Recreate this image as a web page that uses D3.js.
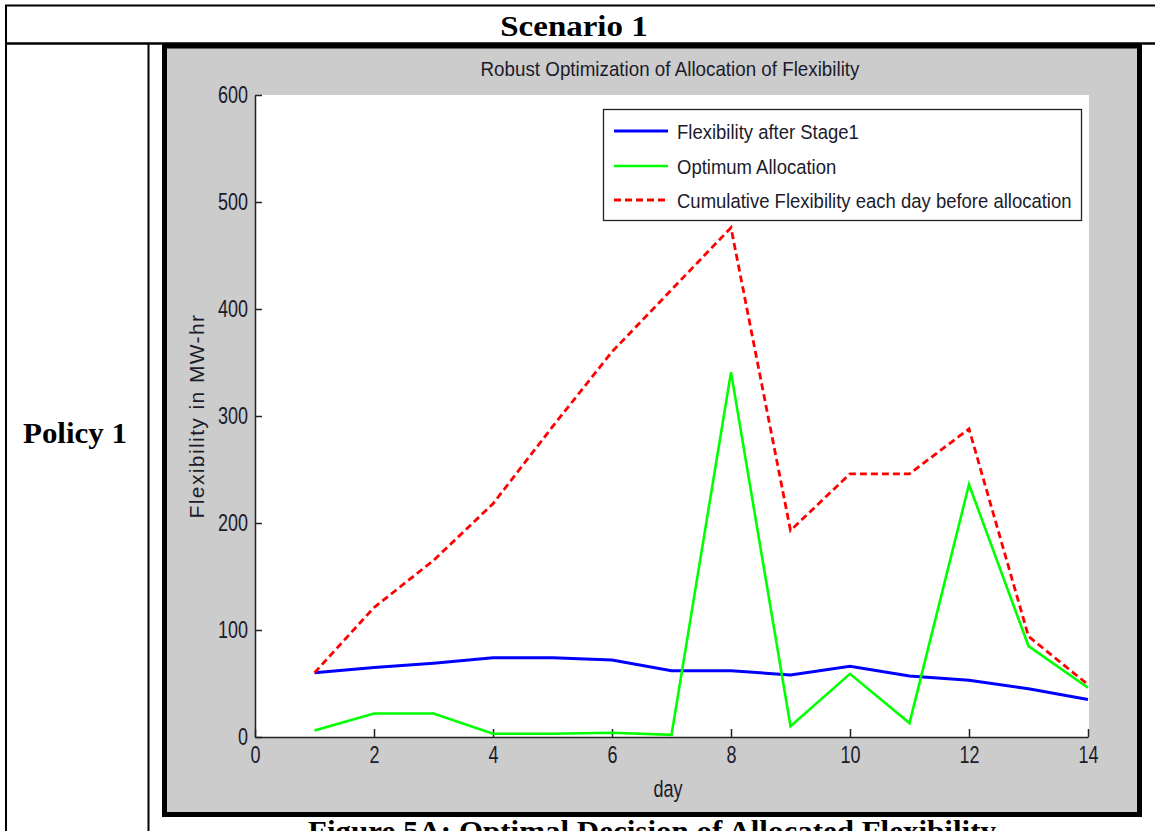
<!DOCTYPE html>
<html>
<head>
<meta charset="utf-8">
<script src="https://cdn.jsdelivr.net/npm/d3@7"></script>
<style>
  body { margin: 0; background: #fff; }
  svg { display: block; }
</style>
</head>
<body>
<div id="chart"></div>
<script>
// data
const days = [1, 2, 3, 4, 5, 6, 7, 8, 9, 10, 11, 12, 13, 14];
const afterStage1 = [60, 65, 69, 74, 74, 72, 62, 62, 58, 66, 57, 53, 45, 35];
const optimumAllocation = [6, 22, 22, 3, 3, 4, 2, 341, 10, 59, 13, 236, 85, 46];
const cumulativeBefore = [60, 121, 165, 218, 290, 360, 418, 476, 193, 246, 246, 288, 94, 49];
const seriesNames = ["Flexibility after Stage1", "Optimum Allocation", "Cumulative Flexibility each day before allocation"];
const xTicks = [0, 2, 4, 6, 8, 10, 12, 14];
const yTicks = [0, 100, 200, 300, 400, 500, 600];

const W = 1155, H = 831;
const plot = { left: 255, right: 1089, top: 95, bottom: 737 };
const sy = 1.35;   // the screenshot is stretched vertically, text too
const sans = "'Liberation Sans', Arial, sans-serif";
const serif = "'Liberation Serif', 'Times New Roman', serif";

const svg = d3.select("#chart").append("svg")
  .attr("width", W).attr("height", H);

svg.append("rect").attr("width", W).attr("height", H).attr("fill", "#fff");

// put a text at (x, y) stretched vertically
function tallText(g, x, y, s, k) {
  return g.append("text")
    .attr("transform", `translate(${x},${y}) scale(1,${k})`)
    .text(s);
}

// table around the figure
const table = svg.append("g").attr("stroke", "#000").attr("fill", "none");
table.append("line").attr("x1", 5).attr("x2", W).attr("y1", 5.5).attr("y2", 5.5).attr("stroke-width", 2);
table.append("line").attr("x1", 6).attr("x2", 6).attr("y1", 5).attr("y2", H).attr("stroke-width", 2);
table.append("line").attr("x1", 5).attr("x2", W).attr("y1", 43.5).attr("y2", 43.5).attr("stroke-width", 2.5);
table.append("line").attr("x1", 148.5).attr("x2", 148.5).attr("y1", 43).attr("y2", H).attr("stroke-width", 2);

tallText(svg, 574, 36, "Scenario 1", 0.92)
  .attr("text-anchor", "middle")
  .attr("font-family", serif).attr("font-weight", "bold").attr("font-size", 33);

tallText(svg, 75, 443, "Policy 1", 0.97)
  .attr("text-anchor", "middle")
  .attr("font-family", serif).attr("font-weight", "bold").attr("font-size", 31);

// figure frame
svg.append("rect")
  .attr("x", 164.5).attr("y", 46).attr("width", 975).attr("height", 768.5)
  .attr("fill", "#cccccc").attr("stroke", "#000").attr("stroke-width", 5);

tallText(svg, 652, 841, "Figure 5A: Optimal Decision of Allocated Flexibility", 0.95)
  .attr("text-anchor", "middle")
  .attr("font-family", serif).attr("font-weight", "bold").attr("font-size", 31);

// axes
svg.append("rect")
  .attr("x", plot.left).attr("y", plot.top)
  .attr("width", plot.right - plot.left).attr("height", plot.bottom - plot.top)
  .attr("fill", "#fff");

const x = d3.scaleLinear().domain([0, 14]).range([plot.left, plot.right - 1]);
const y = d3.scaleLinear().domain([0, 600]).range([plot.bottom, plot.top]);

const gx = svg.append("g")
  .attr("transform", `translate(0,${plot.bottom})`)
  .call(d3.axisBottom(x).tickValues(xTicks).tickSizeInner(-8).tickSizeOuter(0).tickPadding(0));

const gy = svg.append("g")
  .attr("transform", `translate(${plot.left},0)`)
  .call(d3.axisLeft(y).tickValues(yTicks).tickSizeInner(-7).tickSizeOuter(0).tickPadding(7));

[gx, gy].forEach(g => {
  g.select(".domain").attr("stroke", "#222").attr("stroke-width", 1.5);
  g.selectAll(".tick line").attr("stroke", "#222").attr("stroke-width", 1.5);
  g.selectAll(".tick text")
    .attr("fill", "#1b1b2b")
    .attr("font-family", sans)
    .attr("font-size", 18);
});
gx.selectAll(".tick text").attr("y", 9 / sy).attr("transform", `scale(1,${sy})`);
gy.selectAll(".tick text").attr("transform", `scale(1,${sy})`);

tallText(svg, 668, 797, "day", sy)
  .attr("text-anchor", "middle").attr("fill", "#1b1b2b")
  .attr("font-family", sans).attr("font-size", 18);

svg.append("text")
  .attr("transform", "translate(204,416) rotate(-90)")
  .attr("text-anchor", "middle").attr("fill", "#1b1b2b")
  .attr("font-family", sans).attr("font-size", 21)
  .attr("letter-spacing", 1.4)
  .text("Flexibility in MW-hr");

tallText(svg, 670, 76, "Robust Optimization of Allocation of Flexibility", 1.12)
  .attr("text-anchor", "middle").attr("fill", "#1b1b2b")
  .attr("font-family", sans).attr("font-size", 18.8);

// lines
const line = d3.line().x(d => x(d[0])).y(d => y(d[1]));
const series = [
  { values: afterStage1, color: "#0000ff", width: 3, dash: null },
  { values: optimumAllocation, color: "#00ff00", width: 2.6, dash: null },
  { values: cumulativeBefore, color: "#ff0000", width: 2.8, dash: "7,4" }
];

svg.append("g").selectAll("path")
  .data(series)
  .join("path")
    .attr("d", s => line(days.map((d, i) => [d, s.values[i]])))
    .attr("fill", "none")
    .attr("stroke", s => s.color)
    .attr("stroke-width", s => s.width)
    .attr("stroke-dasharray", s => s.dash)
    .attr("stroke-linejoin", "miter");

// legend
const legend = svg.append("g");
legend.append("rect")
  .attr("x", 603.5).attr("y", 109.5).attr("width", 478).attr("height", 111)
  .attr("fill", "#fff").attr("stroke", "#222").attr("stroke-width", 1.3);

const rowY = [131, 166, 200];
series.forEach((s, i) => {
  legend.append("line")
    .attr("x1", 614).attr("x2", 668).attr("y1", rowY[i]).attr("y2", rowY[i])
    .attr("stroke", s.color).attr("stroke-width", s.width)
    .attr("stroke-dasharray", s.dash);
  tallText(legend, 677, rowY[i] + 8, seriesNames[i], 1.12)
    .attr("fill", "#1b1b2b")
    .attr("font-family", sans).attr("font-size", 18.5);
});
</script>
</body>
</html>
